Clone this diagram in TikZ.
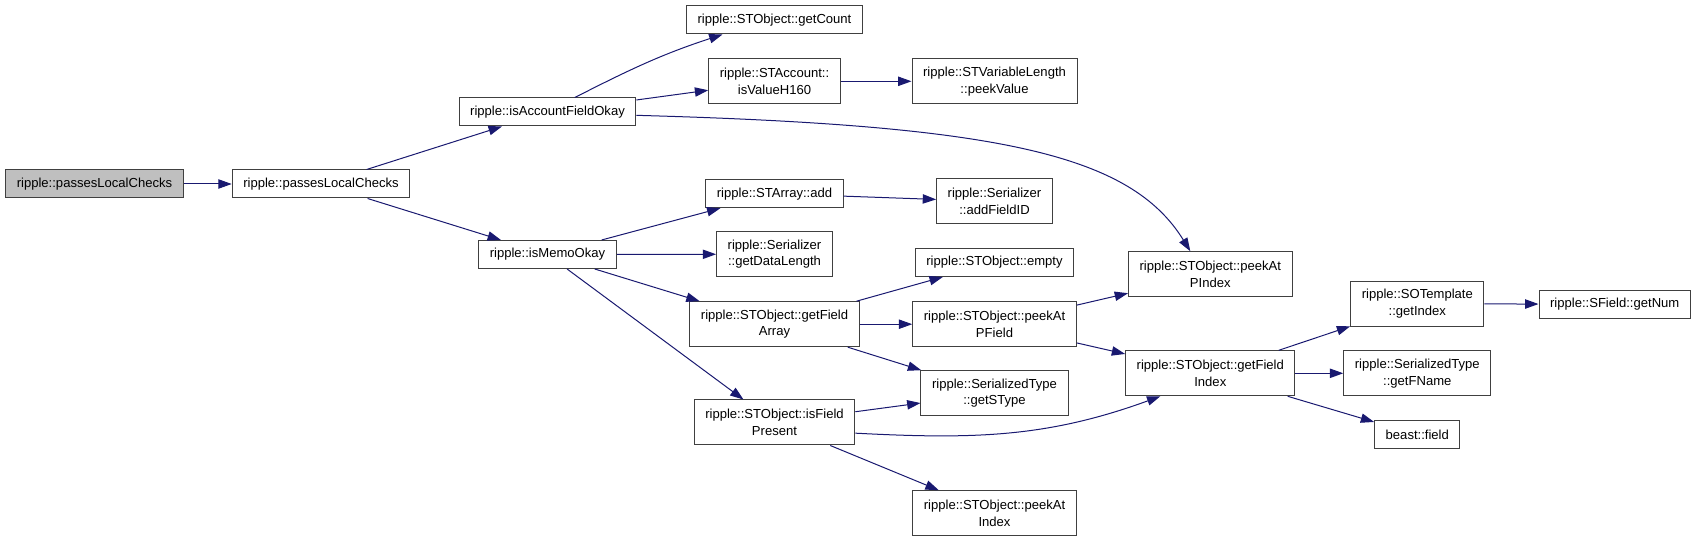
\documentclass[tikz,border=0pt]{standalone}
\usepackage{fontspec}
\setmainfont{Liberation Sans}
\usepackage{tikz}
\usetikzlibrary{arrows.meta}
\definecolor{edgeblue}{HTML}{191970}
\definecolor{boxline}{HTML}{404040}

\begin{document}
\begin{tikzpicture}[
			x=0.75pt, y=0.75pt,
			box/.style={rectangle, draw=boxline, line width=0.75pt, fill=white, align=center, inner xsep=8.3pt, inner ysep=2pt, minimum height=21pt, font=\fontsize{9.8}{12.6}\selectfont},
			box2/.style={box, minimum height=33.75pt},
			cur/.style={box, fill=gray!50},
			arr/.style={-{Triangle[length=10pt,width=7pt]}, draw=edgeblue, line width=0.75pt}
			]
			\useasboundingbox (0,0) rectangle (1696,-541);
			\node[cur] (root) at (94.5,-184) {ripple::passesLocalChecks};
			\node[box] (plc) at (321,-184) {ripple::passesLocalChecks};
			\node[box] (acct) at (547.5,-112) {ripple::isAccountFieldOkay};
			\node[box] (memo) at (547.5,-254.5) {ripple::isMemoOkay};
			\node[box] (cnt) at (774.5,-20) {ripple::STObject::getCount};
			\node[box2] (h160) at (774.5,-81.3) {ripple::STAccount::\\isValueH160};
			\node[box2] (peekval) at (994.5,-81.3) {ripple::STVariableLength\\::peekValue};
			\node[box] (add) at (774.5,-193.7) {ripple::STArray::add};
			\node[box2] (addfid) at (994.5,-201.5) {ripple::Serializer\\::addFieldID};
			\node[box2] (datalen) at (774.5,-254.2) {ripple::Serializer\\::getDataLength};
			\node[box] (empty) at (994.5,-262.5) {ripple::STObject::empty};
			\node[box2] (farray) at (774.5,-324.2) {ripple::STObject::getField\\Array};
			\node[box2] (pfield) at (994.5,-324.2) {ripple::STObject::peekAt\\PField};
			\node[box2] (stype) at (994.5,-393.2) {ripple::SerializedType\\::getSType};
			\node[box2] (present) at (774.5,-422.5) {ripple::STObject::isField\\Present};
			\node[box2] (peekidx) at (994.5,-513.2) {ripple::STObject::peekAt\\Index};
			\node[box2] (pidx) at (1210.3,-274.2) {ripple::STObject::peekAt\\PIndex};
			\node[box2] (findex) at (1210.3,-373.3) {ripple::STObject::getField\\Index};
			\node[box2] (tmpl) at (1417.3,-303.8) {ripple::SOTemplate\\::getIndex};
			\node[box2] (fname) at (1417.3,-373.3) {ripple::SerializedType\\::getFName};
			\node[box] (field) at (1417.3,-434.8) {beast::field};
			\node[box] (getnum) at (1614.7,-304.2) {ripple::SField::getNum};
			\draw[arr] (root) -- (plc);
			\draw[arr] (plc) -- (acct);
			\draw[arr] (plc) -- (memo);
			\draw[arr] ([xshift=20.5pt]acct.north) to[out=27,in=198] ([xshift=-39pt]cnt.south);
			\draw[arr] (acct) -- (h160);
			\draw[arr] ([yshift=-2.5pt]acct.east) .. controls +(363,-10) and +(-60,97) .. ([xshift=-15pt]pidx.north);
			\draw[arr] (h160) -- (peekval);
			\draw[arr] (memo) -- (add);
			\draw[arr] (memo) -- (datalen);
			\draw[arr] (memo) -- (farray);
			\draw[arr] (memo) -- (present);
			\draw[arr] (add) -- (addfid);
			\draw[arr] (farray) -- (empty);
			\draw[arr] (farray) -- (pfield);
			\draw[arr] (farray) -- (stype);
			\draw[arr] (pfield) -- (pidx);
			\draw[arr] (pfield) -- (findex);
			\draw[arr] (present) -- (stype);
			\draw[arr] ([yshift=-8pt]present.east) to[out=-3,in=200] ([xshift=-37.5pt]findex.south);
			\draw[arr] (present) -- (peekidx);
			\draw[arr] (findex) -- (tmpl);
			\draw[arr] (findex) -- (fname);
			\draw[arr] (findex) -- (field);
			\draw[arr] (tmpl) -- (getnum);
		\end{tikzpicture}
\end{document}
